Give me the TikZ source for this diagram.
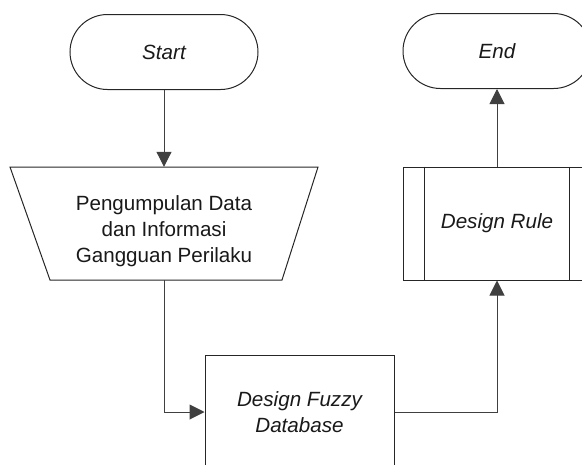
\documentclass[tikz,border=0pt]{standalone}
\usepackage{fontspec}
\setmainfont{Liberation Sans}
\usetikzlibrary{arrows.meta}
\begin{document}
\begin{tikzpicture}[x=1pt,y=-1pt,
  txt/.style={font=\fontsize{20.6}{26}\selectfont, text=black!90, align=center},
  terminal/.style={draw=black!85, line width=1pt, rounded corners=37.5pt,
    minimum width=188pt, minimum height=75pt, inner sep=0pt,
    font=\fontsize{20.6}{26}\selectfont\itshape, text=black!90},
  process/.style={draw=black!85, line width=1pt, minimum width=189pt,
    minimum height=113pt, inner sep=0pt, align=center,
    font=\fontsize{20.6}{26}\selectfont\itshape, text=black!90},
  frame/.style={minimum width=232pt, minimum height=113pt, inner sep=0pt},
  outline/.style={draw=black!85, line width=1pt},
  flow/.style={draw=black!75, line width=1pt, -{Triangle[length=15pt,width=15pt]}}]
\useasboundingbox (0,0) rectangle (582,464);
\clip (0,0) rectangle (582,464);

% terminals
\node[terminal] (start) at (164,52) {Start};
\node[terminal] (end) at (497,51) {End};

% manual input (inverted trapezoid)
\node[frame] (collect) at (164,223.5) {};
\draw[outline] (10,167) -- (318,167) -- (282,280) -- (50,280) -- cycle;
\node[txt] (collecttxt) at ([yshift=-8pt]collect.center)
  {Pengumpulan Data\\dan Informasi\\Gangguan Perilaku};

% process boxes
\node[process] (fuzzy) at (299.5,412) {Design Fuzzy\\Database};
\node[process, minimum width=188pt] (rule) at (497,223.5) {Design Rule};
\draw[outline] ([xshift=22pt]rule.north west) -- ([xshift=22pt]rule.south west);
\draw[outline] ([xshift=-22pt]rule.north east) -- ([xshift=-22pt]rule.south east);

% connectors
\draw[flow] (start.south) -- (collect.north);
\draw[flow] (collect.south) |- (fuzzy.west);
\draw[flow] (fuzzy.east) -| (rule.south);
\draw[flow] (rule.north) -- (end.south);
\end{tikzpicture}
\end{document}
